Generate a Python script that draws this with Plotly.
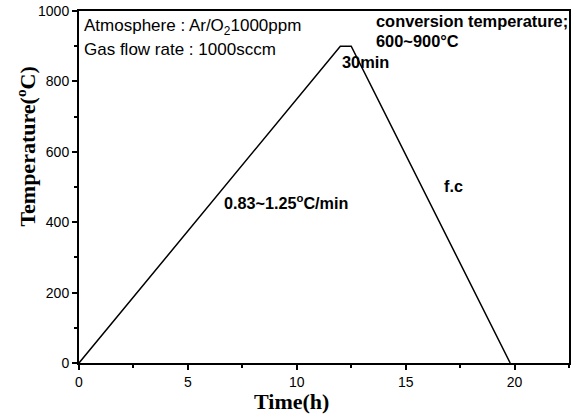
import plotly.graph_objects as go

time_h = [0, 12.0, 12.5, 19.8]
temp_c = [0, 900, 900, 0]

x_ticks = [0, 5, 10, 15, 20]
y_ticks = [0, 200, 400, 600, 800, 1000]

x_title = "<b>Time(h)</b>"
y_title = "<b>Temperature(<sup>o</sup>C)</b>"

fig = go.Figure()
fig.add_trace(go.Scatter(x=time_h, y=temp_c, mode="lines",
                         line=dict(color="black", width=1.5), showlegend=False))

sans = "Liberation Sans, Arial, sans-serif"
serif = "Liberation Serif, Times New Roman, serif"

annots = [
    dict(x=0.15, y=955, text="Atmosphere : Ar/O<sub>2</sub>1000ppm", size=17),
    dict(x=0.15, y=892, text="Gas flow rate : 1000sccm", size=17),
    dict(x=13.55, y=972, text="<b>conversion temperature;</b>", size=16.4),
    dict(x=13.55, y=915, text="<b>600~900°C</b>", size=16.4),
    dict(x=12.0, y=856, text="<b>30min</b>", size=16.4),
    dict(x=6.57, y=456, text="<b>0.83~1.25<sup>o</sup>C/min</b>", size=16.2),
    dict(x=16.67, y=504, text="<b>f.c</b>", size=16.2),
]
for a in annots:
    fig.add_annotation(x=a["x"], y=a["y"], text=a["text"], showarrow=False,
                       xanchor="left", yanchor="middle",
                       font=dict(family=sans, size=a["size"], color="black"))

# axis titles placed as in the reference (offset from the axis centre)
fig.add_annotation(xref="paper", yref="paper", x=0.433, y=-0.108, text=x_title,
                   showarrow=False, xanchor="center", yanchor="middle",
                   font=dict(family=serif, size=22, color="black"))
fig.add_annotation(xref="paper", yref="paper", x=-0.11, y=0.615, text=y_title,
                   showarrow=False, xanchor="center", yanchor="middle", textangle=-90,
                   font=dict(family=serif, size=22, color="black"))

axis_common = dict(showline=True, linecolor="black", linewidth=2, mirror=True,
                   ticks="outside", ticklen=5, tickwidth=1.5, tickcolor="black",
                   showgrid=False, zeroline=False, automargin=False,
                   tickfont=dict(family=sans, size=14, color="black"))

fig.update_xaxes(range=[0, 22.5], tickvals=x_ticks,
                 minor=dict(dtick=2.5, tick0=0, ticks="outside", ticklen=3,
                            tickwidth=1.5, tickcolor="black"),
                 **axis_common)
fig.update_yaxes(range=[0, 1000], tickvals=y_ticks,
                 minor=dict(dtick=100, tick0=0, ticks="outside", ticklen=3,
                            tickwidth=1.5, tickcolor="black"),
                 **axis_common)

fig.update_layout(width=581, height=414, margin=dict(l=79, r=12, t=11, b=51),
                  plot_bgcolor="white", paper_bgcolor="white")

# remove the default 8px body margin so the figure fills the window exactly
fig.write_html("out.html", config={"displayModeBar": False},
               post_script="document.body.style.margin='0';")
